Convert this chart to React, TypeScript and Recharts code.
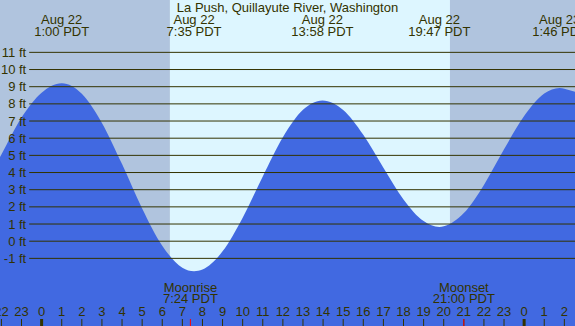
import React from 'react';
import { AreaChart, Area, XAxis, YAxis, ReferenceArea, ReferenceLine, ReferenceDot } from 'recharts';

// Hours since midnight Aug 22 (PDT) and tide heights in feet
const hours = [-2.07, -2, -1, 0, 1, 2, 3, 4, 5, 6, 7, 7.583, 8, 9, 10, 11, 12, 13, 13.967, 15, 16, 17, 18, 19, 19.783, 20, 21, 22, 23, 24, 25, 25.767, 26, 26.53];
const heights = [4.9, 5.05, 7.2, 8.65, 9.2, 8.59, 6.89, 4.49, 1.91, -0.26, -1.54, -1.75, -1.65, -0.59, 1.37, 3.77, 6.05, 7.65, 8.2, 7.64, 6.2, 4.28, 2.43, 1.17, 0.83, 0.87, 1.64, 3.28, 5.35, 7.29, 8.6, 8.93, 8.88, 8.7];

// High / low tide labels
const extremeTimes = [1.0, 7.583, 13.967, 19.783, 25.767];
const extremeDates = ['Aug 22', 'Aug 22', 'Aug 22', 'Aug 22', 'Aug 23'];
const extremeLabels = ['1:00 PDT', '7:35 PDT', '13:58 PDT', '19:47 PDT', '1:46 PDT'];

// Sun: night / day bands
const bandStarts = [-2.07, 6.383, 20.31];
const bandEnds = [6.383, 20.31, 26.53];
const bandIsDay = [false, true, false];

// Moon events
const moonTimes = [7.4, 21.0];
const moonNames = ['Moonrise', 'Moonset'];
const moonLabels = ['7:24 PDT', '21:00 PDT'];

// Axis ticks
const hourTicks = [-2, -1, 0, 1, 2, 3, 4, 5, 6, 7, 8, 9, 10, 11, 12, 13, 14, 15, 16, 17, 18, 19, 20, 21, 22, 23, 24, 25, 26];
const feetTicks = [-1, 0, 1, 2, 3, 4, 5, 6, 7, 8, 9, 10, 11];

const title = 'La Push, Quillayute River, Washington';

const tMin = -2.07;
const tMax = 26.53;
const yMin = -4.94;
const yMax = 14.05;
const gridStart = -0.617;

const W = 575;
const H = 326;
const INK = '#333300';
const NIGHT = '#b0c4de';
const DAY = '#ddf6ff';
const WATER = '#4169e1';
const FONT = '"Liberation Sans", Arial, sans-serif';

const data = hours.map((t, i) => ({ t, h: heights[i] }));

const hourLabel = (h: number) => String(((h % 24) + 24) % 24);

export default function App() {
  return (
    <div style={{ width: W, height: H, position: 'relative' }}>
      <style>{'body{margin:0}'}</style>
      <AreaChart width={W} height={H} data={data} margin={{ top: 0, right: 0, bottom: 0, left: 0 }}>
        <XAxis type="number" dataKey="t" domain={[tMin, tMax]} allowDataOverflow hide />
        <YAxis type="number" domain={[yMin, yMax]} allowDataOverflow hide />
        {bandStarts.map((s, i) => (
          <ReferenceArea
            key={'band' + i}
            x1={s}
            x2={bandEnds[i]}
            y1={yMin}
            y2={yMax}
            fill={bandIsDay[i] ? DAY : NIGHT}
            fillOpacity={1}
            stroke="none"
            ifOverflow="visible"
          />
        ))}
        <Area
          type="monotone"
          dataKey="h"
          baseValue="dataMin"
          stroke="none"
          fill={WATER}
          fillOpacity={1}
          isAnimationActive={false}
          dot={false}
          activeDot={false}
        />
        {feetTicks.map((v) => (
          <ReferenceLine
            key={'ft' + v}
            segment={[{ x: gridStart, y: v }, { x: tMax, y: v }]}
            stroke={INK}
            strokeWidth={1}
            ifOverflow="visible"
            label={{ value: `${v} ft`, position: 'left', offset: 3, fill: INK, fontSize: 13, fontFamily: FONT }}
          />
        ))}
        {hourTicks.map((h) => (
          <ReferenceDot
            key={'hr' + h}
            x={h}
            y={yMin}
            r={0}
            ifOverflow="visible"
            shape={(p: any) => (
              <g>
                <line x1={p.cx} x2={p.cx} y1={p.cy - 7} y2={p.cy} stroke={INK} strokeWidth={h % 24 === 0 ? 3 : 1} />
                <text x={p.cx} y={p.cy - 10} textAnchor="middle" fill={INK} fontSize={13} fontFamily={FONT}>
                  {hourLabel(h)}
                </text>
              </g>
            )}
          />
        ))}
        {moonTimes.map((t, i) => (
          <ReferenceDot
            key={'moon' + i}
            x={t}
            y={yMin}
            r={0}
            ifOverflow="visible"
            shape={(p: any) => (
              <g>
                <line x1={p.cx} x2={p.cx} y1={p.cy - 7} y2={p.cy} stroke="#ff0000" strokeWidth={1} />
                <text x={p.cx} y={p.cy - 34.5} textAnchor="middle" fill={INK} fontSize={13} fontFamily={FONT}>
                  {moonNames[i]}
                </text>
                <text x={p.cx} y={p.cy - 22.7} textAnchor="middle" fill={INK} fontSize={13} fontFamily={FONT}>
                  {moonLabels[i]}
                </text>
              </g>
            )}
          />
        ))}
        {extremeTimes.map((t, i) => (
          <ReferenceDot
            key={'ext' + i}
            x={t}
            y={yMax}
            r={0}
            ifOverflow="visible"
            shape={(p: any) => (
              <g>
                <text x={p.cx} y={p.cy + 24} textAnchor="middle" fill={INK} fontSize={13} fontFamily={FONT}>
                  {extremeDates[i]}
                </text>
                <text x={p.cx} y={p.cy + 35.7} textAnchor="middle" fill={INK} fontSize={13} fontFamily={FONT}>
                  {extremeLabels[i]}
                </text>
              </g>
            )}
          />
        ))}
        <ReferenceDot
          x={(tMin + tMax) / 2}
          y={yMax}
          r={0}
          ifOverflow="visible"
          shape={(p: any) => (
            <text x={p.cx} y={p.cy + 11.5} textAnchor="middle" fill={INK} fontSize={13} fontFamily={FONT}>
              {title}
            </text>
          )}
        />
      </AreaChart>
    </div>
  );
}
